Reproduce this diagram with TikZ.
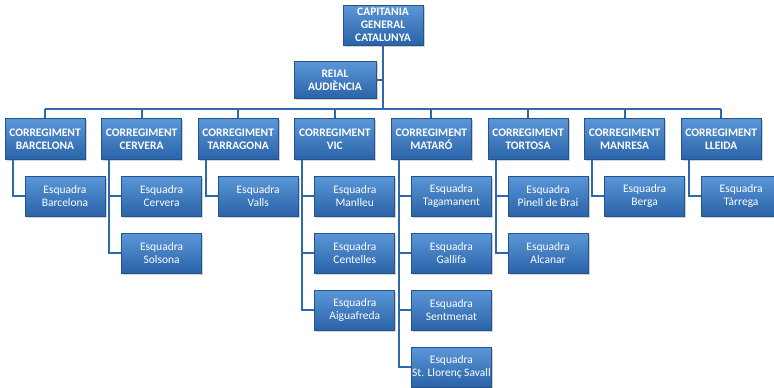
\documentclass[tikz,border=0pt]{standalone}
\usepackage{fontspec}
\setmainfont{Carlito}
\usetikzlibrary{shadows}
\definecolor{boxtop}{HTML}{5B97D8}
\definecolor{boxbot}{HTML}{2A63A8}
\definecolor{boxborder}{HTML}{24548E}
\definecolor{linec}{HTML}{2F69AC}
\tikzset{
  orgbox/.style={draw=boxborder, line width=0.8pt, top color=boxtop, bottom color=boxbot,
    minimum width=80pt, minimum height=40pt, text=white, align=center, inner sep=1pt,
    drop shadow={shadow xshift=1.5pt, shadow yshift=-1.5pt, opacity=0.35}},
  headbox/.style={orgbox, font=\bfseries\fontsize{11.5}{12.8}\selectfont},
  sqbox/.style={orgbox, font=\fontsize{11.5}{13}\selectfont},
  conn/.style={draw=linec, line width=2pt}
}
\begin{document}
\begin{tikzpicture}[x=1pt,y=-1pt]
\useasboundingbox[fill=white] (0,0) rectangle (774,388);
\coordinate (busy) at (0,109);
\node[headbox] (top) at (383,25) {CAPITANIA\\GENERAL\\CATALUNYA};
\node[headbox, minimum width=82pt, minimum height=37pt] (reial) at (335,80) {REIAL\\AUDIÈNCIA};
% corregiments
\foreach \i/\t in {1/BARCELONA,2/CERVERA,3/TARRAGONA,4/VIC,5/MATARÓ,6/TORTOSA,7/MANRESA,8/LLEIDA}{
  \node[headbox, minimum height=41pt] (c\i) at ({45+96.6*(\i-1)},139) {CORREGIMENT\\\t};
}
% esquadres
\newcommand{\sq}[4]{\node[sqbox] (#1) at ({45+96.6*(#2-1)+20},{196+57*(#3-1)}) {Esquadra\\#4};}
\sq{e11}{1}{1}{Barcelona}
\sq{e21}{2}{1}{Cervera}
\sq{e22}{2}{2}{Solsona}
\sq{e31}{3}{1}{Valls}
\sq{e41}{4}{1}{Manlleu}
\sq{e42}{4}{2}{Centelles}
\sq{e43}{4}{3}{Aiguafreda}
\sq{e51}{5}{1}{Tagamanent}
\sq{e52}{5}{2}{Gallifa}
\sq{e53}{5}{3}{Sentmenat}
\sq{e54}{5}{4}{St. Llorenç Savall}
\sq{e61}{6}{1}{Pinell de Brai}
\sq{e62}{6}{2}{Alcanar}
\sq{e71}{7}{1}{Berga}
\sq{e81}{8}{1}{Tàrrega}
% connectors
\draw[conn] (top.south) -- (top.south |- busy);
\draw[conn] (reial.east) -- (reial.east -| top.south);
\draw[conn] (c1.north |- busy) -- (c8.north |- busy);
\foreach \i in {1,...,8}{ \draw[conn] (c\i.north) -- (c\i.north |- busy); }
\foreach \c/\e in {1/11,2/21,2/22,3/31,4/41,4/42,4/43,5/51,5/52,5/53,5/54,6/61,6/62,7/71,8/81}{
  \draw[conn] ([xshift=8pt]c\c.south west) |- (e\e.west);
}
\end{tikzpicture}
\end{document}
